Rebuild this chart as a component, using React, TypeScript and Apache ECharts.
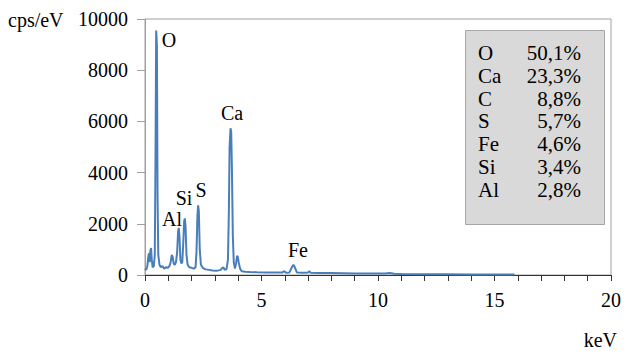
import React, { useEffect, useRef } from "react";
import * as echarts from "echarts";

// EDS spectrum: energy (keV) and intensity (cps/eV)
const energyKeV = [
  0.0, 0.05, 0.1, 0.14, 0.17, 0.2, 0.23, 0.26, 0.29, 0.33, 0.38, 0.42, 0.45, 0.48, 0.51, 0.54, 0.57,
  0.62, 0.68, 0.75, 0.82, 0.9, 0.98, 1.05, 1.1, 1.15, 1.19, 1.23, 1.28, 1.33, 1.38, 1.42, 1.45,
  1.48, 1.52, 1.56, 1.6, 1.64, 1.68, 1.71, 1.74, 1.78, 1.83, 1.9, 2.0, 2.1, 2.17, 2.21, 2.25,
  2.28, 2.31, 2.35, 2.4, 2.48, 2.6, 2.75, 2.9, 3.05, 3.15, 3.25, 3.32, 3.37, 3.42, 3.5, 3.56,
  3.6, 3.63, 3.67, 3.7, 3.73, 3.77, 3.81, 3.86, 3.91, 3.95, 3.98, 4.02, 4.08, 4.15, 4.3, 4.5,
  4.8, 5.2, 5.6, 5.9, 5.98, 6.05, 6.2, 6.3, 6.37, 6.43, 6.52, 6.8, 7.0, 7.05, 7.1, 7.5, 8.0,
  8.5, 9.0, 9.5, 10.0, 10.3, 10.5, 10.7, 11.0, 12.0, 13.0, 14.0, 15.0, 15.86,
];
const countsPerEv = [
  250, 200, 350, 700, 850, 500, 950, 1050, 600, 300, 350, 800, 4500, 9550, 9000, 3000, 800,
  400, 300, 350, 250, 300, 280, 350, 500, 780, 700, 450, 400, 500, 900, 1700, 1840,
  1500, 600, 450, 500, 1200, 2100, 2210, 1900, 800, 400, 300, 280, 250, 300, 900, 2300,
  2720, 2500, 1000, 400, 280, 220, 200, 180, 170, 180, 200, 280, 300, 200, 230, 600,
  2500, 5000, 5730, 5600, 4200, 1500, 500, 250, 450, 750, 720, 500, 250, 150, 130, 120,
  110, 100, 95, 100, 150, 90, 100, 300, 400, 300, 100, 90, 100, 150, 90, 80, 75,
  70, 60, 55, 55, 60, 80, 50, 35, 30, 25, 20, 18, 15,
];

// peak annotations
const peakNames = ["O", "Ca", "Si", "S", "Al", "Fe"];

// composition table
const tableElements = ["O", "Ca", "C", "S", "Fe", "Si", "Al"];
const tablePercents = ["50,1%", "23,3%", "8,8%", "5,7%", "4,6%", "3,4%", "2,8%"];

const yTickMax = 10000;
const yTickStep = 2000;
const xMax = 20;
const xStep = 5;

const FONT = "Liberation Serif";

export default function App() {
  const ref = useRef<HTMLDivElement>(null);

  useEffect(() => {
    if (!ref.current) return;
    const chart = echarts.init(ref.current, null, { renderer: "svg" });

    const peakPos: Record<string, [number, number]> = {
      O: [169, 40],
      Ca: [232, 113],
      Si: [184, 198],
      S: [201, 190],
      Al: [172, 219],
      Fe: [298, 250],
    };

    const txt = (text: string, x: number, y: number, size: number, align: string) => ({
      type: "text",
      x,
      y,
      style: {
        text,
        fill: "#000",
        fontSize: size,
        fontFamily: FONT,
        textAlign: align,
        textVerticalAlign: "middle",
      },
    });

    const graphics: any[] = [];
    peakNames.forEach((n) => {
      const [x, y] = peakPos[n];
      graphics.push(txt(n, x, y, 20, "center"));
    });

    graphics.push({
      type: "rect",
      shape: { x: 465.5, y: 30.5, width: 139, height: 194 },
      style: { fill: "#D9D9D9", stroke: "#A6A6A6", lineWidth: 1 },
    });
    tableElements.forEach((el, i) => {
      const y = 53 + i * 22.75;
      graphics.push(txt(el, 478, y, 21, "left"));
      graphics.push(txt(tablePercents[i], 581, y, 21, "right"));
    });

    graphics.push(txt("cps/eV", 8, 20, 20, "left"));
    graphics.push(txt("keV", 617, 340, 20, "right"));

    chart.setOption({
      animation: false,
      backgroundColor: "#fff",
      textStyle: { fontFamily: FONT },
      grid: {
        left: 145,
        top: 19,
        right: 11,
        bottom: 76,
        show: true,
        borderColor: "#A0A0A0",
        borderWidth: 1,
        backgroundColor: "transparent",
      },
      xAxis: {
        type: "value",
        min: 0,
        max: xMax,
        interval: xStep,
        axisLine: { show: true, lineStyle: { color: "#333", width: 1 } },
        axisTick: { show: true, length: 6, lineStyle: { color: "#333" } },
        minorTick: { show: true, splitNumber: 5, length: 6, lineStyle: { color: "#333" } },
        splitLine: { show: false },
        axisLabel: { fontSize: 20, color: "#000", fontFamily: FONT, margin: 15 },
      },
      yAxis: {
        type: "value",
        min: 0,
        max: yTickMax,
        interval: yTickStep,
        axisLine: { show: true, lineStyle: { color: "#A0A0A0", width: 1 } },
        axisTick: { show: true, length: 8, lineStyle: { color: "#A0A0A0" } },
        splitLine: { show: false },
        axisLabel: {
          fontSize: 20,
          color: "#000",
          fontFamily: FONT,
          margin: 17,
          formatter: (v: number) => String(v),
        },
      },
      series: [
        {
          type: "line",
          data: energyKeV.map((e, i) => [e, countsPerEv[i]]),
          showSymbol: false,
          symbol: "none",
          lineStyle: { color: "#4A7EBB", width: 2 },
          z: 3,
        },
      ],
      graphic: graphics,
    });

    return () => chart.dispose();
  }, []);

  return (
    <div
      ref={ref}
      style={{ position: "absolute", left: 0, top: 0, width: 624, height: 351 }}
    />
  );
}
